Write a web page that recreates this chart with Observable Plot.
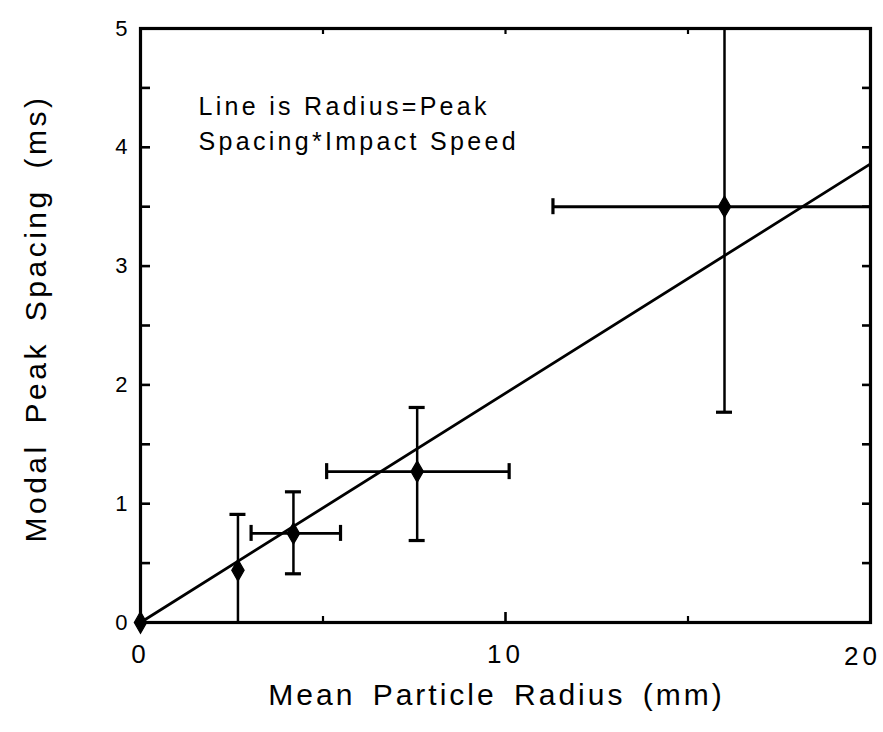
<!DOCTYPE html>
<html>
<head>
<meta charset="utf-8">
<script src="https://cdn.jsdelivr.net/npm/d3@7"></script>
<script src="https://cdn.jsdelivr.net/npm/@observablehq/plot@0.6"></script>
<style>
  html, body { margin: 0; padding: 0; background: #fff; }
  #chart svg { font-family: "Liberation Sans", Arial, Helvetica, sans-serif; background: #fff; }
  [aria-label="annotation"] { letter-spacing: 3.3px; }
  [aria-label="x-title"] { letter-spacing: 3px; word-spacing: 6px; }
  [aria-label="y-title"] { letter-spacing: 3.5px; word-spacing: 8px; }
  g[aria-label="x-axis tick label"] text { letter-spacing: 4px; }
</style>
</head>
<body>
<div id="chart"></div>
<script>
// ---- data ----
const pointX = [0, 2.67, 4.19, 7.58, 16.0];
const pointY = [0, 0.44, 0.75, 1.27, 3.5];
const yLow   = [null, 0,    0.41, 0.69, 1.77];
const yHigh  = [null, 0.91, 1.10, 1.81, 5];
const xLow   = [null, null, 3.03, 5.1, 11.3];
const xHigh  = [null, null, 5.48, 10.1, 20];
const yLowCap  = [false, false, true, true, true];
const yHighCap = [false, true,  true, true, false];
const xLowCap  = [false, false, true, true, true];
const xHighCap = [false, false, true, true, false];

const lineX = [0, 20];
const lineY = [0, 3.86];

const xTickLabels = [0, 10];
const xTickLabelsEnd = [20];
const yTickLabels = [0, 1, 2, 3, 4, 5];
const leftTicks   = [0.5, 1, 1.5, 2, 2.5, 3, 3.5, 4, 4.5];
const rightTicks  = [0.5, 1, 1.5, 2, 2.5, 3, 3.5, 4, 4.5];
const bottomMajor = [10];
const bottomMinor = [5, 15];
const topTicks    = [5, 10, 15];

const xTitle = "Mean Particle Radius (mm)";
const yTitle = "Modal Peak Spacing (ms)";
const annotation = "Line is Radius=Peak\nSpacing*Impact Speed";

// ---- layout ----
const W = 883, H = 732;
const mL = 140, mR = 13, mT = 28, mB = 110;
const PW = W - mL - mR, PH = H - mT - mB;

const pts = pointX.map((x, i) => ({
  x, y: pointY[i], yl: yLow[i], yh: yHigh[i], xl: xLow[i], xh: xHigh[i],
  ylc: yLowCap[i], yhc: yHighCap[i], xlc: xLowCap[i], xhc: xHighCap[i]
}));
const vBars = pts.filter(d => d.yl != null);
const hBars = pts.filter(d => d.xl != null);
const line = lineX.map((x, i) => ({x, y: lineY[i]}));

const plot = Plot.plot({
  width: W, height: H,
  marginLeft: mL, marginRight: mR, marginTop: mT, marginBottom: mB,
  x: {domain: [0, 20]},
  y: {domain: [0, 5]},
  style: {fontFamily: '"Liberation Sans", Arial, Helvetica, sans-serif', color: "#000", background: "#fff"},
  marks: [
    // axes labels
    Plot.axisY(yTickLabels, {anchor: "left", tickSize: 0, tickPadding: 13, fontSize: 22, tickFormat: d => String(d), label: null}),
    Plot.axisX(xTickLabels, {anchor: "bottom", tickSize: 0, tickPadding: 22, fontSize: 26, tickFormat: d => String(d), label: null}),
    Plot.axisX(xTickLabelsEnd, {anchor: "bottom", tickSize: 0, tickPadding: 24, fontSize: 26, dx: -8, tickFormat: d => String(d), label: null}),
    // inward ticks
    Plot.tickY(leftTicks, {y: d => d, insetRight: PW - 10, strokeWidth: 2.6}),
    Plot.tickY(rightTicks, {y: d => d, insetLeft: PW - 8, strokeWidth: 2.6}),
    Plot.tickX(bottomMajor, {x: d => d, insetTop: PH - 10, strokeWidth: 2.6}),
    Plot.tickX(bottomMinor, {x: d => d, insetTop: PH - 6, strokeWidth: 2.2}),
    Plot.tickX(topTicks, {x: d => d, insetBottom: PH - 6, strokeWidth: 2.2}),
    // fit line
    Plot.line(line, {x: "x", y: "y", stroke: "#000", strokeWidth: 2.8}),
    // error bars
    Plot.ruleX(vBars, {x: "x", y1: "yl", y2: "yh", stroke: "#000", strokeWidth: 2.5}),
    Plot.ruleY(hBars, {y: "y", x1: "xl", x2: "xh", stroke: "#000", strokeWidth: 2.9}),
    Plot.ruleY(vBars.filter(d => d.ylc), {y: "yl", x1: "x", x2: "x", insetLeft: -8, insetRight: -8, stroke: "#000", strokeWidth: 3.2}),
    Plot.ruleY(vBars.filter(d => d.yhc), {y: "yh", x1: "x", x2: "x", insetLeft: -8, insetRight: -8, stroke: "#000", strokeWidth: 3.2}),
    Plot.ruleX(hBars.filter(d => d.xlc), {x: "xl", y1: "y", y2: "y", insetTop: -8, insetBottom: -8, stroke: "#000", strokeWidth: 3.2}),
    Plot.ruleX(hBars.filter(d => d.xhc), {x: "xh", y1: "y", y2: "y", insetTop: -8, insetBottom: -8, stroke: "#000", strokeWidth: 3.2}),
    // points
    Plot.dot(pts, {x: "x", y: "y", symbol: "diamond", r: 6.5, fill: "#000", stroke: "#000", strokeWidth: 1.2}),
    // frame
    Plot.frame({stroke: "#000", strokeWidth: 3.2}),
    // annotation
    Plot.text([annotation], {text: d => d, frameAnchor: "top-left", textAnchor: "start", lineAnchor: "top",
      dx: 58, dy: 62, fontSize: 25, lineHeight: 1.4, fill: "#000", ariaLabel: () => "annotation"}),
    // titles
    Plot.text([xTitle], {text: d => d, frameAnchor: "bottom", textAnchor: "middle", dx: -9, dy: 82, fontSize: 30, fill: "#000", ariaLabel: () => "x-title"}),
    Plot.text([yTitle], {text: d => d, frameAnchor: "left", textAnchor: "middle", lineAnchor: "middle", dx: -104, dy: -7, rotate: -90, fontSize: 30, fill: "#000", ariaLabel: () => "y-title"})
  ]
});
document.getElementById("chart").appendChild(plot);
</script>
</body>
</html>
